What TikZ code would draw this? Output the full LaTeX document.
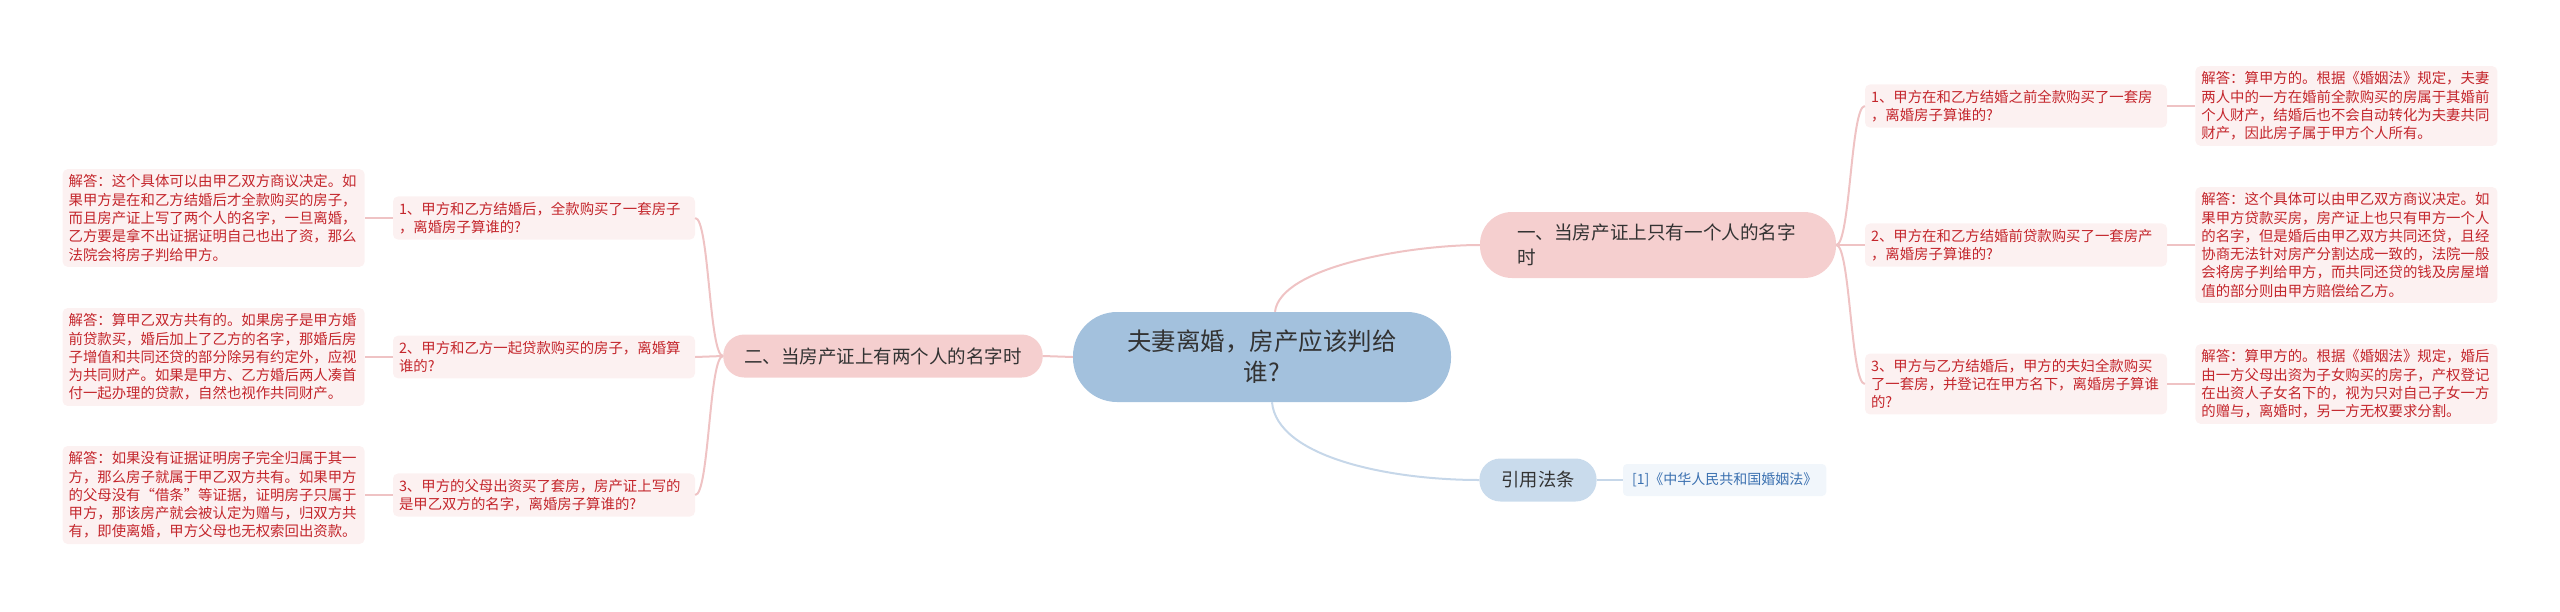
\documentclass[tikz,border=0pt]{standalone}
\usepackage{fontspec}
\setmainfont{Noto Sans CJK SC}
\usetikzlibrary{positioning}
\definecolor{mmblue}{HTML}{A3C1DD}
\definecolor{mmpink}{HTML}{F5CFCF}
\definecolor{mmbox}{HTML}{FCF1F1}
\definecolor{mmred}{HTML}{C4262C}
\definecolor{mmline}{HTML}{EFC3C4}
\definecolor{mmcite}{HTML}{C9DBEC}
\definecolor{mmciteline}{HTML}{C6D7E9}
\definecolor{mmref}{HTML}{F1F6FB}
\definecolor{mmreftext}{HTML}{3A70B0}
\definecolor{mmtext}{HTML}{333333}

\begin{document}
\begin{tikzpicture}[x=1pt,y=-1pt,
  root/.style={fill=mmblue,text=mmtext,rounded corners=44pt,minimum width=378pt,minimum height=90pt,
    align=center,font=\fontsize{24.5}{31}\selectfont},
  branch/.style={fill=mmpink,text=mmtext,font=\fontsize{18.5}{25}\selectfont,minimum height=43pt,
    rounded corners=21pt,inner xsep=21pt},
  leaf/.style={fill=mmbox,text=mmred,rounded corners=5pt,text width=290pt,align=left,
    inner xsep=6pt,inner ysep=5.5pt,font=\fontsize{14.4}{18.3}\selectfont},
  link/.style={draw=mmline,line width=2pt},
  citelink/.style={draw=mmciteline,line width=2pt}]
  \useasboundingbox (0,0) rectangle (2560,611);
  \node[root] (root) at (1262,357) {夫妻离婚，房产应该判给\\谁?};
  % right branch
  \node[branch,text width=282pt,inner xsep=37pt,minimum height=66pt,rounded corners=32pt,align=left,
    font=\fontsize{18.6}{25}\selectfont] (one) at (1658,245) {一、当房产证上只有一个人的名字\\时};
  \node[leaf] (rq1) at (2016,106) {1、甲方在和乙方结婚之前全款购买了一套房\\，离婚房子算谁的?};
  \node[leaf] (rq2) at (2016,245) {2、甲方在和乙方结婚前贷款购买了一套房产\\，离婚房子算谁的?};
  \node[leaf] (rq3) at (2016,384) {3、甲方与乙方结婚后，甲方的夫妇全款购买\\了一套房，并登记在甲方名下，离婚房子算谁\\的?};
  \node[leaf,right=28pt of rq1] (ra1) {解答：算甲方的。根据《婚姻法》规定，夫妻\\两人中的一方在婚前全款购买的房属于其婚前\\个人财产，结婚后也不会自动转化为夫妻共同\\财产，因此房子属于甲方个人所有。};
  \node[leaf,right=28pt of rq2] (ra2) {解答：这个具体可以由甲乙双方商议决定。如\\果甲方贷款买房，房产证上也只有甲方一个人\\的名字，但是婚后由甲乙双方共同还贷，且经\\协商无法针对房产分割达成一致的，法院一般\\会将房子判给甲方，而共同还贷的钱及房屋增\\值的部分则由甲方赔偿给乙方。};
  \node[leaf,right=28pt of rq3] (ra3) {解答：算甲方的。根据《婚姻法》规定，婚后\\由一方父母出资为子女购买的房子，产权登记\\在出资人子女名下的，视为只对自己子女一方\\的赠与，离婚时，另一方无权要求分割。};
  % left branch
  \node[branch] (two) at (883,356) {二、当房产证上有两个人的名字时};
  \node[leaf] (lq1) at (544,218) {1、甲方和乙方结婚后，全款购买了一套房子\\，离婚房子算谁的?};
  \node[leaf] (lq2) at (544,357) {2、甲方和乙方一起贷款购买的房子，离婚算\\谁的?};
  \node[leaf] (lq3) at (544,495) {3、甲方的父母出资买了套房，房产证上写的\\是甲乙双方的名字，离婚房子算谁的?};
  \node[leaf,left=28pt of lq1] (la1) {解答：这个具体可以由甲乙双方商议决定。如\\果甲方是在和乙方结婚后才全款购买的房子，\\而且房产证上写了两个人的名字，一旦离婚，\\乙方要是拿不出证据证明自己也出了资，那么\\法院会将房子判给甲方。};
  \node[leaf,left=28pt of lq2] (la2) {解答：算甲乙双方共有的。如果房子是甲方婚\\前贷款买，婚后加上了乙方的名字，那婚后房\\子增值和共同还贷的部分除另有约定外，应视\\为共同财产。如果是甲方、乙方婚后两人凑首\\付一起办理的贷款，自然也视作共同财产。};
  \node[leaf,left=28pt of lq3] (la3) {解答：如果没有证据证明房子完全归属于其一\\方，那么房子就属于甲乙双方共有。如果甲方\\的父母没有“借条”等证据，证明房子只属于\\甲方，那该房产就会被认定为赠与，归双方共\\有，即使离婚，甲方父母也无权索回出资款。};
  % cited law
  \node[branch,fill=mmcite,font=\fontsize{18.3}{22}\selectfont,inner xsep=22pt] (cite) at (1538,480) {引用法条};
  \node[fill=mmref,text=mmreftext,rounded corners=4pt,minimum height=32pt,inner xsep=9pt,
    font=\fontsize{14}{17}\selectfont,right=26pt of cite] (ref) {[1]《中华人民共和国婚姻法》};
  % connectors
  \draw[link] ([xshift=13pt]root.north) .. controls +(5,-45) and +(-70,0) .. (one.west);
  \draw[link] (root.west) -- (two.east);
  \draw[citelink] ([xshift=10pt]root.south) .. controls +(5,55) and +(-90,0) .. (cite.west);
  \draw[citelink] (cite) -- (ref);
  \foreach \q/\a in {rq1/ra1,rq2/ra2,rq3/ra3} {
    \draw[link] (one.east) .. controls +(14,0) and +(-14,0) .. (\q.west);
    \draw[link] (\q) -- (\a);
  }
  \foreach \q/\a in {lq1/la1,lq2/la2,lq3/la3} {
    \draw[link] (two.west) .. controls +(-14,0) and +(14,0) .. (\q.east);
    \draw[link] (\q) -- (\a);
  }
\end{tikzpicture}
\end{document}
